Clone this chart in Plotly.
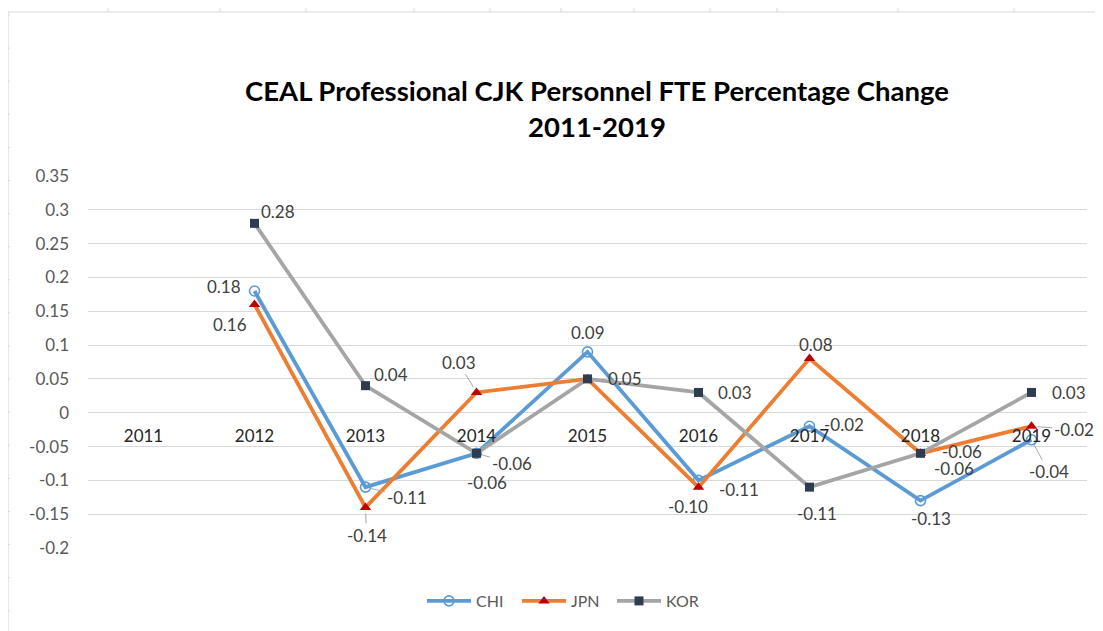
import plotly.graph_objects as go

# ---------------- data ----------------
years = ["2011", "2012", "2013", "2014", "2015", "2016", "2017", "2018", "2019"]
chi = [None, 0.18, -0.11, -0.06, 0.09, -0.10, -0.02, -0.13, -0.04]
jpn = [None, 0.16, -0.14, 0.03, 0.05, -0.11, 0.08, -0.06, -0.02]
kor = [None, 0.28, 0.04, -0.06, 0.05, 0.03, -0.11, -0.06, 0.03]
y_ticks = [0.35, 0.3, 0.25, 0.2, 0.15, 0.1, 0.05, 0, -0.05, -0.1, -0.15, -0.2]
y_tick_text = ["0.35", "0.3", "0.25", "0.2", "0.15", "0.1", "0.05", "0", "-0.05", "-0.1", "-0.15", "-0.2"]
title_text = "CEAL Professional CJK Personnel FTE Percentage Change<br>2011-2019"

# label placement (pixel offsets dx, dy[down], leader line flag); None = hidden
chi_lab = [None, (-31, -4, 0), (41, 10, 1), (10, 29, 0), (0, -19, 0), (-11, 26, 0), (34, -2, 0), (10, 18, 0), (17, 32, 1)]
jpn_lab = [None, (-25, 20, 0), (1, 28, 1), (-18, -30, 1), None, (40, 2, 0), (6, -14, 0), (41, -2, 0), (42, 3, 1)]
kor_lab = [None, (23, -12, 0), (25, -11, 0), (35, 10, 1), (37, 0, 0), (36, 0, 0), (7, 26, 0), (33, 15, 0), (37, 0, 0)]

OFF = 8  # page body margin
W, H = 1103 - OFF, 631 - OFF
ML, MR, MT, MB = 88 - OFF, 16, 176 - OFF, 83
YMIN, YMAX = -0.2, 0.35
FONT = "Lato"


def px_x(p):  # screen px -> paper
    return (p - OFF - ML) / (W - ML - MR)


def px_y(p):
    return 1 - (p - OFF - MT) / (H - MT - MB)


fig = go.Figure()

series = [
    ("CHI", chi, chi_lab, "#5B9BD5", dict(symbol="circle-open", size=10, color="#5B9BD5", line=dict(width=1.6, color="#5B9BD5"))),
    ("JPN", jpn, jpn_lab, "#ED7D31", dict(symbol="triangle-up", size=10, color="#C00000", line=dict(width=0))),
    ("KOR", kor, kor_lab, "#A5A5A5", dict(symbol="square", size=9, color="#2E3B50", line=dict(width=0))),
]

for name, vals, labs, col, mk in series:
    fig.add_trace(go.Scatter(
        x=years, y=vals, name=name, mode="lines+markers",
        line=dict(color=col, width=3.8), marker=mk, connectgaps=False,
        cliponaxis=False,
    ))

annotations = []
for name, vals, labs, col, mk in series:
    for i, (v, lab) in enumerate(zip(vals, labs)):
        if v is None or lab is None:
            continue
        dx, dy, leader = lab
        txt = f"{v:.2f}"
        if leader:
            annotations.append(dict(
                x=i, y=v, xref="x", yref="y", text=txt, showarrow=True,
                ax=dx, ay=dy, arrowhead=0, arrowwidth=1, arrowcolor="#A6A6A6",
                standoff=6, startstandoff=0,
                font=dict(family=FONT, size=17, color="#404040"),
            ))
        else:
            annotations.append(dict(
                x=i, y=v, xref="x", yref="y", text=txt, showarrow=False,
                xshift=dx, yshift=-dy,
                font=dict(family=FONT, size=17, color="#404040"),
            ))

# spreadsheet frame decorations
shapes = [
    dict(type="line", xref="paper", yref="paper", x0=px_x(8), x1=px_x(1103), y0=px_y(12), y1=px_y(12),
         line=dict(color="#D9D9D9", width=1.2)),
    dict(type="line", xref="paper", yref="paper", x0=px_x(8), x1=px_x(8), y0=px_y(12), y1=px_y(631),
         line=dict(color="#D9D9D9", width=1.2)),
]
for cx in [108, 220, 306, 414, 490, 561, 634, 710, 777, 898, 1014]:
    shapes.append(dict(type="line", xref="paper", yref="paper", x0=px_x(cx), x1=px_x(cx), y0=px_y(8), y1=px_y(12),
                       line=dict(color="#D9D9D9", width=1)))
for k in range(19):
    ry = 15 + 33.1 * k
    shapes.append(dict(type="line", xref="paper", yref="paper", x0=px_x(8), x1=px_x(10), y0=px_y(ry), y1=px_y(ry),
                       line=dict(color="#D9D9D9", width=1)))

fig.update_layout(
    width=W, height=H,
    margin=dict(l=ML, r=MR, t=MT, b=MB, pad=0),
    paper_bgcolor="white", plot_bgcolor="white",
    title=dict(text=title_text, xref="paper", x=px_x(597), xanchor="center",
               yref="container", y=1 - 93 / H, yanchor="middle",
               font=dict(family=FONT, size=27.5, color="#000000", weight="bold")),
    xaxis=dict(
        type="category", categoryorder="array", categoryarray=years,
        range=[-0.5, 8.5], showgrid=False, zeroline=False, showline=False,
        anchor="free", position=(0 - YMIN) / (YMAX - YMIN),
        ticks="outside", ticklen=8, tickcolor="rgba(0,0,0,0)",
        tickfont=dict(family=FONT, size=17, color="#262626"),
    ),
    yaxis=dict(
        range=[YMIN, YMAX], tickvals=y_ticks, ticktext=y_tick_text,
        showgrid=True, gridcolor="#D9D9D9", gridwidth=1,
        zeroline=False, showline=False, ticks="", ticklabelstandoff=18,
        tickfont=dict(family=FONT, size=17, color="#595959"),
    ),
    legend=dict(orientation="h", x=px_x(422), xanchor="left", y=px_y(601), yanchor="middle",
                font=dict(family=FONT, size=16, color="#595959"), itemwidth=44,
                entrywidth=36, entrywidthmode="pixels",
                bgcolor="rgba(0,0,0,0)", traceorder="normal"),
    annotations=annotations,
    shapes=shapes,
    showlegend=True,
)

fig.write_html("out.html")
